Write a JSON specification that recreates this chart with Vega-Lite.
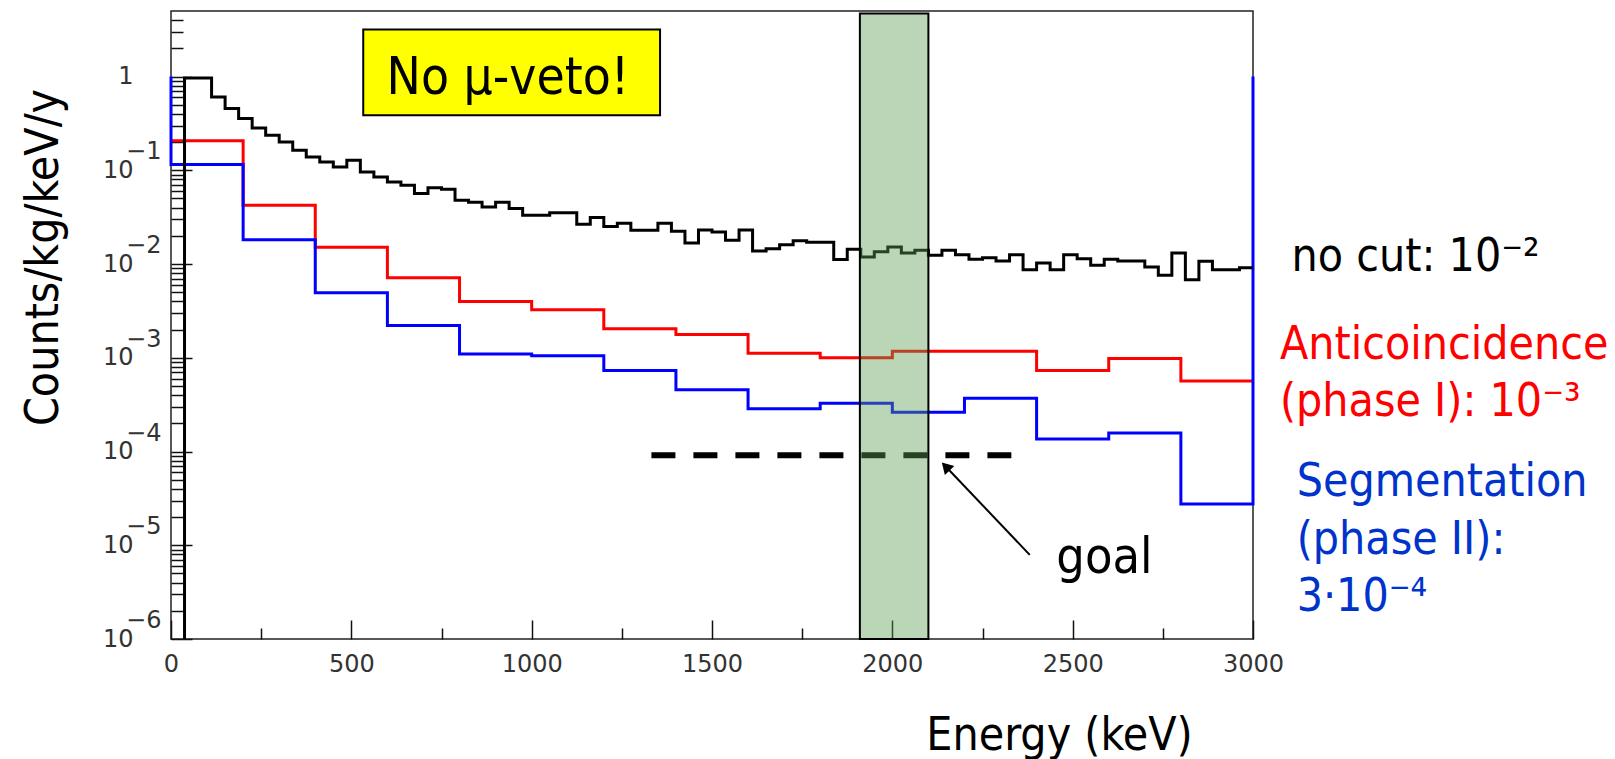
{
  "$schema": "https://vega.github.io/schema/vega-lite/v6.json",
  "width": 1082,
  "height": 628,
  "autosize": {"type": "none"},
  "padding": {"left": 171, "top": 11, "right": 362, "bottom": 120},
  "background": "white",
  "config": {
    "view": {"stroke": "#222", "strokeWidth": 1.5},
    "axis": {"grid": false, "domain": false, "labelFont": "DejaVu Sans", "labelFontSize": 24, "labelColor": "#333", "tickColor": "#111", "tickWidth": 1.5, "labelFlush": false, "labelOverlap": false}
  },
  "datasets": {
    "nocut": [
      {"i": 0, "E": 37.5, "v": 0.000001},
      {"i": 1, "E": 37.5, "v": 0.967}, {"i": 2, "E": 75, "v": 0.967}, {"i": 3, "E": 112.5, "v": 0.606}, {"i": 4, "E": 150, "v": 0.456},
      {"i": 5, "E": 187.5, "v": 0.356}, {"i": 6, "E": 225, "v": 0.283}, {"i": 7, "E": 262.5, "v": 0.236}, {"i": 8, "E": 300, "v": 0.2005},
      {"i": 9, "E": 337.5, "v": 0.1635}, {"i": 10, "E": 375, "v": 0.1387}, {"i": 11, "E": 412.5, "v": 0.1226}, {"i": 12, "E": 450, "v": 0.1084},
      {"i": 13, "E": 487.5, "v": 0.1279}, {"i": 14, "E": 525, "v": 0.0959}, {"i": 15, "E": 562.5, "v": 0.0848}, {"i": 16, "E": 600, "v": 0.075},
      {"i": 17, "E": 637.5, "v": 0.0692}, {"i": 18, "E": 675, "v": 0.0564}, {"i": 19, "E": 712.5, "v": 0.065}, {"i": 20, "E": 750, "v": 0.0627},
      {"i": 21, "E": 787.5, "v": 0.0478}, {"i": 22, "E": 825, "v": 0.0455}, {"i": 23, "E": 862.5, "v": 0.0406}, {"i": 24, "E": 900, "v": 0.0455},
      {"i": 25, "E": 937.5, "v": 0.039}, {"i": 26, "E": 975, "v": 0.0331}, {"i": 27, "E": 1012.5, "v": 0.0331}, {"i": 28, "E": 1050, "v": 0.0352},
      {"i": 29, "E": 1087.5, "v": 0.0352}, {"i": 30, "E": 1125, "v": 0.0265}, {"i": 31, "E": 1162.5, "v": 0.0313}, {"i": 32, "E": 1200, "v": 0.0252},
      {"i": 33, "E": 1237.5, "v": 0.0272}, {"i": 34, "E": 1275, "v": 0.0229}, {"i": 35, "E": 1312.5, "v": 0.0229}, {"i": 36, "E": 1350, "v": 0.0272},
      {"i": 37, "E": 1387.5, "v": 0.0223}, {"i": 38, "E": 1425, "v": 0.01674}, {"i": 39, "E": 1462.5, "v": 0.023}, {"i": 40, "E": 1500, "v": 0.022},
      {"i": 41, "E": 1537.5, "v": 0.01789}, {"i": 42, "E": 1575, "v": 0.023}, {"i": 43, "E": 1612.5, "v": 0.01375}, {"i": 44, "E": 1650, "v": 0.01459},
      {"i": 45, "E": 1687.5, "v": 0.01602}, {"i": 46, "E": 1725, "v": 0.01768}, {"i": 47, "E": 1762.5, "v": 0.01703}, {"i": 48, "E": 1800, "v": 0.01703},
      {"i": 49, "E": 1837.5, "v": 0.01116}, {"i": 50, "E": 1875, "v": 0.01434}, {"i": 51, "E": 1912.5, "v": 0.01187}, {"i": 52, "E": 1950, "v": 0.01349},
      {"i": 53, "E": 1987.5, "v": 0.01518}, {"i": 54, "E": 2025, "v": 0.01309}, {"i": 55, "E": 2062.5, "v": 0.01399}, {"i": 56, "E": 2100, "v": 0.01238},
      {"i": 57, "E": 2137.5, "v": 0.01399}, {"i": 58, "E": 2175, "v": 0.01259}, {"i": 59, "E": 2212.5, "v": 0.01121}, {"i": 60, "E": 2250, "v": 0.01163},
      {"i": 61, "E": 2287.5, "v": 0.01075}, {"i": 62, "E": 2325, "v": 0.01259}, {"i": 63, "E": 2362.5, "v": 0.00871}, {"i": 64, "E": 2400, "v": 0.01024},
      {"i": 65, "E": 2437.5, "v": 0.00871}, {"i": 66, "E": 2475, "v": 0.01259}, {"i": 67, "E": 2512.5, "v": 0.01141}, {"i": 68, "E": 2550, "v": 0.00968},
      {"i": 69, "E": 2587.5, "v": 0.01121}, {"i": 70, "E": 2625, "v": 0.01075}, {"i": 71, "E": 2662.5, "v": 0.01075}, {"i": 72, "E": 2700, "v": 0.00928},
      {"i": 73, "E": 2737.5, "v": 0.00757}, {"i": 74, "E": 2775, "v": 0.01309}, {"i": 75, "E": 2812.5, "v": 0.00681}, {"i": 76, "E": 2850, "v": 0.01068},
      {"i": 77, "E": 2887.5, "v": 0.00871}, {"i": 78, "E": 2925, "v": 0.00871}, {"i": 79, "E": 2962.5, "v": 0.0091}, {"i": 80, "E": 3000, "v": 0.0091}
    ],
    "anti": [
      {"i": 0, "E": 0, "v": 0.207}, {"i": 1, "E": 200, "v": 0.0423}, {"i": 2, "E": 400, "v": 0.01506}, {"i": 3, "E": 600, "v": 0.00715},
      {"i": 4, "E": 800, "v": 0.00399}, {"i": 5, "E": 1000, "v": 0.00326}, {"i": 6, "E": 1200, "v": 0.00204}, {"i": 7, "E": 1400, "v": 0.00177},
      {"i": 8, "E": 1600, "v": 0.00112}, {"i": 9, "E": 1800, "v": 0.001}, {"i": 10, "E": 2000, "v": 0.00117}, {"i": 11, "E": 2200, "v": 0.00117},
      {"i": 12, "E": 2400, "v": 0.000733}, {"i": 13, "E": 2600, "v": 0.000984}, {"i": 14, "E": 2800, "v": 0.000565}, {"i": 15, "E": 3000, "v": 0.000565}
    ],
    "seg": [
      {"i": 0, "E": 0, "v": 1}, {"i": 1, "E": 0, "v": 0.115}, {"i": 2, "E": 200, "v": 0.0182}, {"i": 3, "E": 400, "v": 0.00494},
      {"i": 4, "E": 600, "v": 0.00221}, {"i": 5, "E": 800, "v": 0.0011}, {"i": 6, "E": 1000, "v": 0.00105}, {"i": 7, "E": 1200, "v": 0.000733},
      {"i": 8, "E": 1400, "v": 0.000456}, {"i": 9, "E": 1600, "v": 0.000286}, {"i": 10, "E": 1800, "v": 0.000328}, {"i": 11, "E": 2000, "v": 0.000262},
      {"i": 12, "E": 2200, "v": 0.000371}, {"i": 13, "E": 2400, "v": 0.000136}, {"i": 14, "E": 2600, "v": 0.000158}, {"i": 15, "E": 2800, "v": 0.0000276},
      {"i": 16, "E": 3000, "v": 1}
    ],
    "goal": [{"E": 1332, "E2": 2330, "v": 0.000091}],
    "band": [{"E": 1910, "E2": 2100, "v": 0.000001, "v2": 4.7}],
    "box": [{"E": 533, "E2": 1356, "v": 0.386, "v2": 3.18}],
    "boxtext": [{"E": 934, "v": 0.659, "t": "No μ-veto!"}],
    "arrow": [{"E": 2381, "v": 0.0000079, "E2": 2148, "v2": 0.0000692}],
    "arrowhead": [{"E": 2148, "v": 0.0000692}],
    "goaltext": [{"E": 2588, "v": 0.00000501, "t": "goal"}],
    "txtblack": [{"E": 3107, "v": 0.00841, "t": "no cut: 10⁻²"}],
    "txtred": [{"E": 3074.6, "v": 0.000976, "t": "Anticoincidence"}, {"E": 3074.6, "v": 0.0002363, "t": "(phase I): 10⁻³"}],
    "txtblue": [{"E": 3121, "v": 0.0000339, "t": "Segmentation"}, {"E": 3121, "v": 0.00000808, "t": "(phase II):"}, {"E": 3121, "v": 0.000002, "t": "3·10⁻⁴"}]
  },
  "resolve": {"axis": {"x": "independent", "y": "independent"}},
  "layer": [
    {
      "data": {"name": "anti"},
      "mark": {"type": "line", "interpolate": "step-after", "color": "#ff0000", "strokeWidth": 3, "strokeJoin": "miter"},
      "encoding": {
        "x": {"field": "E", "type": "quantitative", "scale": {"domain": [0, 3000], "nice": false, "zero": false},
          "axis": {"orient": "bottom", "values": [250, 750, 1250, 1750, 2250, 2750], "tickSize": -11, "labels": false, "title": null}},
        "y": {"field": "v", "type": "quantitative", "scale": {"type": "log", "domain": [0.000001, 5], "nice": false},
          "axis": {"orient": "left", "values": [2e-6, 3e-6, 4e-6, 5e-6, 6e-6, 7e-6, 8e-6, 9e-6, 2e-5, 3e-5, 4e-5, 5e-5, 6e-5, 7e-5, 8e-5, 9e-5, 2e-4, 3e-4, 4e-4, 5e-4, 6e-4, 7e-4, 8e-4, 9e-4, 0.002, 0.003, 0.004, 0.005, 0.006, 0.007, 0.008, 0.009, 0.02, 0.03, 0.04, 0.05, 0.06, 0.07, 0.08, 0.09, 0.2, 0.3, 0.4, 0.5, 0.6, 0.7, 0.8, 0.9, 2, 3, 4], "tickSize": -12, "labels": false, "title": null}},
        "order": {"field": "i", "type": "quantitative"}
      }
    },
    {
      "data": {"name": "seg"},
      "mark": {"type": "line", "interpolate": "step-after", "color": "#0000ff", "strokeWidth": 3, "strokeJoin": "miter"},
      "encoding": {
        "x": {"field": "E", "type": "quantitative", "scale": {"domain": [0, 3000], "nice": false, "zero": false}, "axis": null},
        "y": {"field": "v", "type": "quantitative", "scale": {"type": "log", "domain": [0.000001, 5], "nice": false},
          "axis": {"orient": "left", "values": [0.000001, 0.00001, 0.0001, 0.001, 0.01, 0.1], "ticks": false, "labelExpr": "'−' + round(-log(datum.value)/LN10)", "labelPadding": 10, "labelOffset": -18.5, "title": null}},
        "order": {"field": "i", "type": "quantitative"}
      }
    },
    {
      "data": {"name": "nocut"},
      "mark": {"type": "line", "interpolate": "step-after", "color": "black", "strokeWidth": 3, "strokeJoin": "miter"},
      "encoding": {
        "x": {"field": "E", "type": "quantitative", "scale": {"domain": [0, 3000], "nice": false, "zero": false},
          "axis": {"orient": "bottom", "values": [0, 500, 1000, 1500, 2000, 2500, 3000], "format": "d", "tickSize": -19, "labelPadding": 32,
            "title": "Energy (keV)", "titleX": 888, "titleY": 110, "titleFont": "DejaVu Sans Condensed, DejaVu Sans", "titleFontSize": 46, "titleFontWeight": "normal", "titleColor": "black", "titleAlign": "center", "titleBaseline": "alphabetic", "titleAngle": 0}},
        "y": {"field": "v", "type": "quantitative", "scale": {"type": "log", "domain": [0.000001, 5], "nice": false},
          "axis": {"orient": "left", "values": [0.000001, 0.00001, 0.0001, 0.001, 0.01, 0.1, 1], "labelExpr": "datum.value > 0.5 ? '1' : '10'", "tickSize": -21, "labelPadding": 59,
            "title": "Counts/kg/keV/y", "titleX": -114, "titleY": 246, "titleFont": "DejaVu Sans Condensed, DejaVu Sans", "titleFontSize": 46, "titleFontWeight": "normal", "titleColor": "black", "titleAlign": "center", "titleBaseline": "alphabetic", "titleAngle": -90}},
        "order": {"field": "i", "type": "quantitative"}
      }
    },
    {
      "data": {"name": "goal"},
      "mark": {"type": "rule", "color": "black", "strokeWidth": 6, "strokeDash": [24, 18], "strokeCap": "butt"},
      "encoding": {
        "x": {"field": "E", "type": "quantitative", "scale": {"domain": [0, 3000], "nice": false, "zero": false}, "axis": null},
        "x2": {"field": "E2"},
        "y": {"field": "v", "type": "quantitative", "scale": {"type": "log", "domain": [0.000001, 5], "nice": false}, "axis": null}
      }
    },
    {
      "data": {"name": "band"},
      "mark": {"type": "rect", "fill": "#5a9e50", "fillOpacity": 0.42, "stroke": "black", "strokeWidth": 2, "strokeOpacity": 1},
      "encoding": {
        "x": {"field": "E", "type": "quantitative", "scale": {"domain": [0, 3000], "nice": false, "zero": false}, "axis": null},
        "x2": {"field": "E2"},
        "y": {"field": "v", "type": "quantitative", "scale": {"type": "log", "domain": [0.000001, 5], "nice": false}, "axis": null},
        "y2": {"field": "v2"}
      }
    },
    {
      "data": {"name": "box"},
      "mark": {"type": "rect", "fill": "#ffff00", "stroke": "black", "strokeWidth": 2},
      "encoding": {
        "x": {"field": "E", "type": "quantitative", "scale": {"domain": [0, 3000], "nice": false, "zero": false}, "axis": null},
        "x2": {"field": "E2"},
        "y": {"field": "v", "type": "quantitative", "scale": {"type": "log", "domain": [0.000001, 5], "nice": false}, "axis": null},
        "y2": {"field": "v2"}
      }
    },
    {
      "data": {"name": "boxtext"},
      "mark": {"type": "text", "font": "DejaVu Sans Condensed, DejaVu Sans", "fontSize": 51, "color": "black", "align": "center", "baseline": "alphabetic"},
      "encoding": {
        "x": {"field": "E", "type": "quantitative", "scale": {"domain": [0, 3000], "nice": false, "zero": false}, "axis": null},
        "y": {"field": "v", "type": "quantitative", "scale": {"type": "log", "domain": [0.000001, 5], "nice": false}, "axis": null},
        "text": {"field": "t"}
      }
    },
    {
      "data": {"name": "arrow"},
      "mark": {"type": "rule", "color": "black", "strokeWidth": 2},
      "encoding": {
        "x": {"field": "E", "type": "quantitative", "scale": {"domain": [0, 3000], "nice": false, "zero": false}, "axis": null},
        "x2": {"field": "E2"},
        "y": {"field": "v", "type": "quantitative", "scale": {"type": "log", "domain": [0.000001, 5], "nice": false}, "axis": null},
        "y2": {"field": "v2"}
      }
    },
    {
      "data": {"name": "arrowhead"},
      "mark": {"type": "point", "shape": "triangle-up", "size": 170, "filled": true, "color": "black", "opacity": 1, "angle": 316.3},
      "encoding": {
        "x": {"field": "E", "type": "quantitative", "scale": {"domain": [0, 3000], "nice": false, "zero": false}, "axis": null},
        "y": {"field": "v", "type": "quantitative", "scale": {"type": "log", "domain": [0.000001, 5], "nice": false}, "axis": null}
      }
    },
    {
      "data": {"name": "goaltext"},
      "mark": {"type": "text", "font": "DejaVu Sans Condensed, DejaVu Sans", "fontSize": 50, "color": "black", "align": "center", "baseline": "alphabetic"},
      "encoding": {
        "x": {"field": "E", "type": "quantitative", "scale": {"domain": [0, 3000], "nice": false, "zero": false}, "axis": null},
        "y": {"field": "v", "type": "quantitative", "scale": {"type": "log", "domain": [0.000001, 5], "nice": false}, "axis": null},
        "text": {"field": "t"}
      }
    },
    {
      "data": {"name": "txtblack"},
      "mark": {"type": "text", "font": "DejaVu Sans Condensed, DejaVu Sans", "fontSize": 46, "color": "black", "align": "left", "baseline": "alphabetic"},
      "encoding": {
        "x": {"field": "E", "type": "quantitative", "scale": {"domain": [0, 3000], "nice": false, "zero": false}, "axis": null},
        "y": {"field": "v", "type": "quantitative", "scale": {"type": "log", "domain": [0.000001, 5], "nice": false}, "axis": null},
        "text": {"field": "t"}
      }
    },
    {
      "data": {"name": "txtred"},
      "mark": {"type": "text", "font": "DejaVu Sans Condensed, DejaVu Sans", "fontSize": 46, "color": "#ff0000", "align": "left", "baseline": "alphabetic"},
      "encoding": {
        "x": {"field": "E", "type": "quantitative", "scale": {"domain": [0, 3000], "nice": false, "zero": false}, "axis": null},
        "y": {"field": "v", "type": "quantitative", "scale": {"type": "log", "domain": [0.000001, 5], "nice": false}, "axis": null},
        "text": {"field": "t"}
      }
    },
    {
      "data": {"name": "txtblue"},
      "mark": {"type": "text", "font": "DejaVu Sans Condensed, DejaVu Sans", "fontSize": 46, "color": "#0033cc", "align": "left", "baseline": "alphabetic"},
      "encoding": {
        "x": {"field": "E", "type": "quantitative", "scale": {"domain": [0, 3000], "nice": false, "zero": false}, "axis": null},
        "y": {"field": "v", "type": "quantitative", "scale": {"type": "log", "domain": [0.000001, 5], "nice": false}, "axis": null},
        "text": {"field": "t"}
      }
    }
  ]
}
